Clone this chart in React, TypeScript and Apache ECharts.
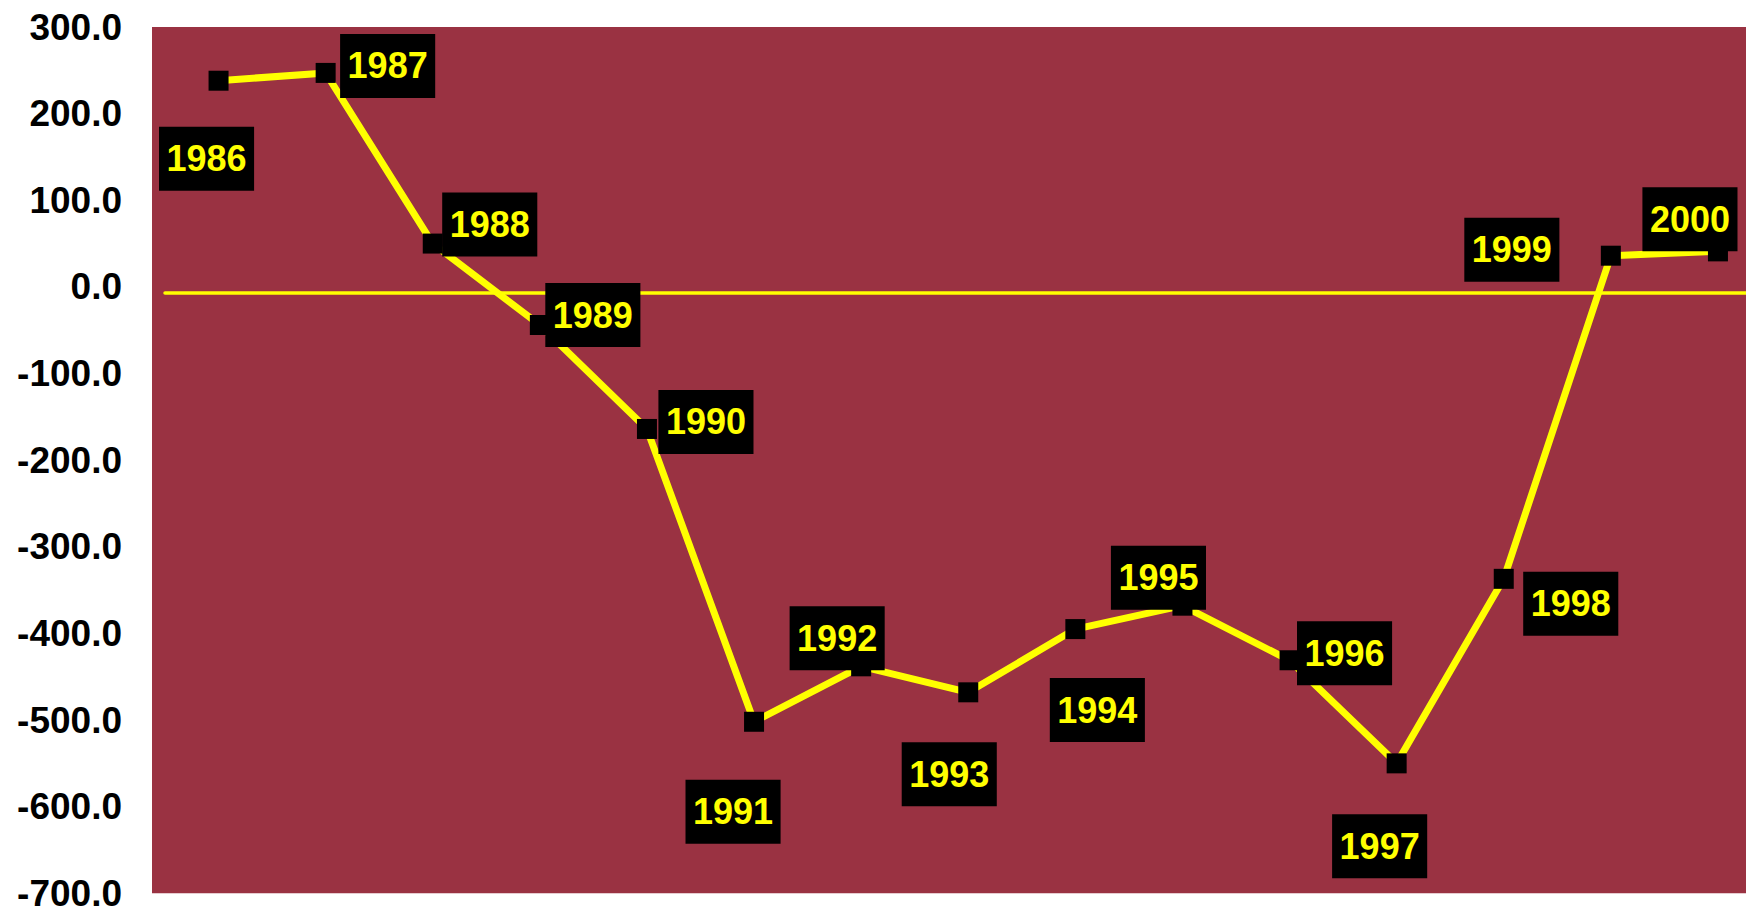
import React, { useEffect, useRef } from "react";
import * as echarts from "echarts";

const years = ["1986", "1987", "1988", "1989", "1990", "1991", "1992", "1993", "1994", "1995", "1996", "1997", "1998", "1999", "2000"];
const values = [238, 247, 50, -44, -164, -502, -438, -468, -395, -368, -431, -550, -337, 36, 41];
const labelOffsets = [
  [-12, 78], [62, -7], [57, -19], [53, -10], [59, -7], [-21, 90], [-24, -28], [-19, 82],
  [22, 81], [-24, -28], [55, -7], [-17, 83], [67, 25], [-99, -6], [-28, -32],
];
const yMin = -700;
const yMax = 300;
const yStep = 100;

export default function App() {
  const ref = useRef<HTMLDivElement>(null);
  useEffect(() => {
    if (!ref.current) return;
    const chart = echarts.init(ref.current, undefined, { renderer: "svg" });
    const gridTop = 27;
    const gridHeight = 866.3;
    const gridLeft = 165;
    const gridWidth = 1606.5;
    const axisY = 292.7;
    chart.setOption({
      animation: false,
      backgroundColor: "#ffffff",
      textStyle: { fontFamily: "Liberation Sans, Arial, sans-serif" },
      graphic: {
        elements: [
          {
            type: "rect",
            z: -1,
            silent: true,
            shape: { x: 152, y: gridTop, width: 1746 - 152, height: gridHeight },
            style: { fill: "#9A3242" },
          },
        ],
      },
      grid: {
        left: gridLeft,
        top: gridTop,
        width: gridWidth,
        height: gridHeight,
        containLabel: false,
        outerBoundsMode: "none",
      },
      xAxis: {
        type: "category",
        data: years,
        boundaryGap: true,
        position: "bottom",
        offset: -(gridTop + gridHeight - axisY),
        axisLine: { show: true, onZero: false, lineStyle: { color: "#FFFF00", width: 3.5 } },
        axisTick: { show: false },
        axisLabel: { show: false },
        splitLine: { show: false },
      },
      yAxis: {
        type: "value",
        min: yMin,
        max: yMax,
        interval: yStep,
        axisLine: { show: false },
        axisTick: { show: false },
        splitLine: { show: false },
        axisLabel: {
          margin: 43,
          color: "#000000",
          fontSize: 37,
          fontWeight: "bold",
          fontFamily: "Liberation Sans, Arial, sans-serif",
          formatter: (v: number) => v.toFixed(1),
        },
      },
      series: [
        {
          type: "line",
          data: values.map((v, i) => ({
            value: v,
            label: { offset: labelOffsets[i] },
          })),
          symbol: "rect",
          symbolSize: 20,
          itemStyle: { color: "#000000" },
          lineStyle: { color: "#FFFF00", width: 7 },
          label: {
            show: true,
            position: "inside",
            formatter: "{b}",
            color: "#FFFF00",
            fontSize: 36,
            fontWeight: "bold",
            fontFamily: "Liberation Sans, Arial, sans-serif",
            backgroundColor: "#000000",
            padding: [13, 7.5],
            lineHeight: 38,
            align: "center",
            verticalAlign: "middle",
          },
        },
      ],
    });
    return () => chart.dispose();
  }, []);
  return <div ref={ref} style={{ position: "fixed", left: 0, top: 0, width: 1746, height: 907 }} />;
}
